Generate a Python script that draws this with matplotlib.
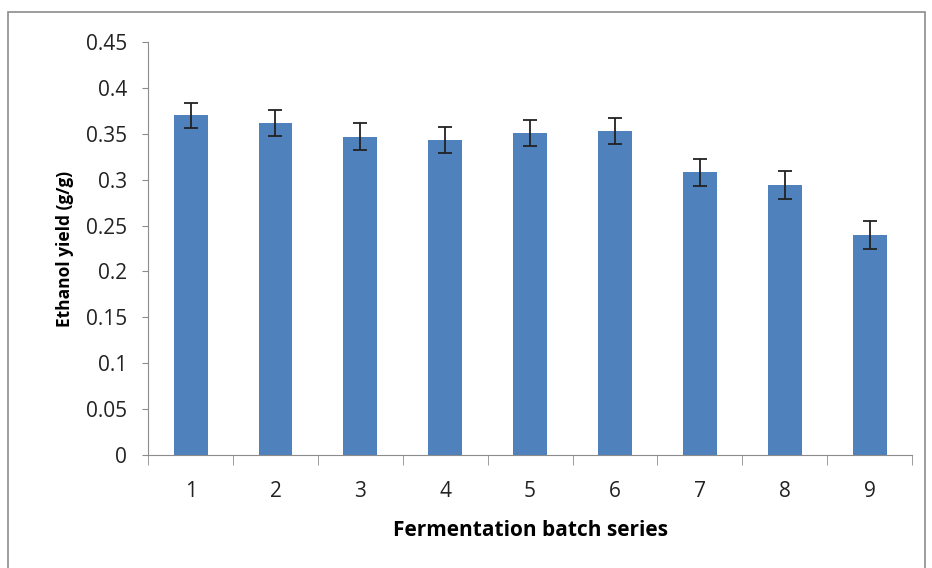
import matplotlib.pyplot as plt
from matplotlib.patches import Rectangle
from matplotlib.ticker import FixedLocator

plt.rcParams['font.family'] = ['Open Sans', 'DejaVu Sans']

batches = [1, 2, 3, 4, 5, 6, 7, 8, 9]
yield_vals = [0.370, 0.362, 0.347, 0.343, 0.351, 0.353, 0.308, 0.294, 0.240]
yield_err = [0.014, 0.014, 0.015, 0.014, 0.014, 0.014, 0.015, 0.015, 0.015]
y_ticks = [0, 0.05, 0.1, 0.15, 0.2, 0.25, 0.3, 0.35, 0.4, 0.45]
y_labels = ['0', '0.05', '0.1', '0.15', '0.2', '0.25', '0.3', '0.35', '0.4', '0.45']

fig = plt.figure(figsize=(9.32, 5.68), dpi=100)
ax = fig.add_axes([0.159, 0.199, 0.8195, 0.727])

# outer chart border
fig.patches.append(Rectangle((8 / 932, -0.05), 917 / 932, 1 - 12 / 568 + 0.05,
                             transform=fig.transFigure, fill=False,
                             edgecolor='#8c8c8c', linewidth=1.2))

ax.bar(batches, yield_vals, width=0.4, color='#4f81bd', zorder=2)
ax.errorbar(batches, yield_vals, yerr=yield_err, fmt='none', ecolor='#222222',
            elinewidth=1.3, capsize=5, capthick=1.3, zorder=3)

ax.set_xlim(0.5, 9.5)
ax.set_ylim(0, 0.45)
ax.set_yticks(y_ticks)
ax.set_yticklabels(y_labels)
ax.set_xticks(batches)
ax.xaxis.set_minor_locator(FixedLocator([b + 0.5 for b in range(0, 10)]))
ax.tick_params(axis='x', which='major', length=0, pad=19, labelsize=15, colors='#222222')
ax.tick_params(axis='x', which='minor', length=7, direction='out', color='#8c8c8c')
ax.tick_params(axis='y', length=4.5, direction='out', color='#8c8c8c', labelsize=15,
               labelcolor='#222222', pad=10.5)

for s in ['top', 'right']:
    ax.spines[s].set_visible(False)
for s in ['left', 'bottom']:
    ax.spines[s].set_color('#8c8c8c')

ax.set_xlabel('Fermentation batch series', fontsize=15, fontweight='bold', labelpad=13)
ax.set_ylabel('Ethanol yield (g/g)', fontsize=12.5, fontweight='bold', labelpad=9)

fig.savefig('out.png', dpi=100)
